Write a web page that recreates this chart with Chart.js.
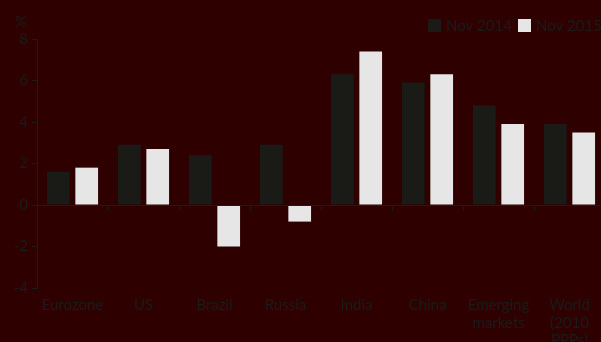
<!DOCTYPE html>
<html>
<head>
<meta charset="utf-8">
<script src="https://cdn.jsdelivr.net/npm/chart.js@4"></script>
<style>
  html, body { margin: 0; padding: 0; background: #2e0000; overflow: hidden; }
  #wrap { width: 606px; height: 342px; position: relative; }
</style>
</head>
<body>
<div id="wrap"><canvas id="c" width="606" height="342"></canvas></div>
<script>
// Real GDP growth, % year on year
const categories = ['Eurozone', 'US', 'Brazil', 'Russia', 'India', 'China', ['Emerging', 'markets'], ['World', '(2010', 'PPPs)']];
const seriesNames = ['Nov 2014', 'Nov 2015'];
const nov2014 = [1.6, 2.9, 2.4, 2.9, 6.3, 5.9, 4.8, 3.9];
const nov2015 = [1.8, 2.7, -2.0, -0.8, 7.4, 6.3, 3.9, 3.5];
const yTicks = [-4, -2, 0, 2, 4, 6, 8];
const unitLabel = '%';

const INK = '#1b1b1b';
const DARK = '#1a1a17';
const LIGHT = '#e6e6e6';
const FONT = "Lato, 'Open Sans', sans-serif";

// zero line with category separators, unit label and legend
const decorations = {
  id: 'decorations',
  afterDatasetsDraw(chart) {
    const { ctx, chartArea, scales } = chart;
    const x = scales.x, y = scales.y;
    const y0 = Math.round(y.getPixelForValue(0)) + 0.5;
    const step = x.getPixelForValue(1) - x.getPixelForValue(0);
    ctx.save();
    ctx.strokeStyle = INK;
    ctx.lineWidth = 1;
    ctx.beginPath();
    ctx.moveTo(chartArea.left, y0);
    ctx.lineTo(chartArea.right, y0);
    for (let i = 0; i < categories.length; i++) {
      const px = Math.round(x.getPixelForValue(i) + step / 2) + 0.5;
      ctx.moveTo(px, y0);
      ctx.lineTo(px, y0 + 5);
    }
    ctx.stroke();

    ctx.fillStyle = INK;
    ctx.font = '15px ' + FONT;
    ctx.textAlign = 'right';
    ctx.textBaseline = 'alphabetic';
    ctx.fillText(unitLabel, 27, 27);

    // legend
    const items = [
      { label: seriesNames[0], color: DARK, x: 428 },
      { label: seriesNames[1], color: LIGHT, x: 518 }
    ];
    ctx.textAlign = 'left';
    items.forEach(it => {
      ctx.fillStyle = it.color;
      ctx.fillRect(it.x, 19, 13, 13);
      ctx.fillStyle = INK;
      ctx.fillText(it.label, it.x + 18, 31);
    });
    ctx.restore();
  }
};

new Chart(document.getElementById('c'), {
  type: 'bar',
  data: {
    labels: categories,
    datasets: [
      { label: seriesNames[0], data: nov2014, backgroundColor: DARK, borderWidth: 0 },
      { label: seriesNames[1], data: nov2015, backgroundColor: LIGHT, borderWidth: 0 }
    ]
  },
  options: {
    responsive: false,
    animation: false,
    events: [],
    layout: { padding: { top: 39, right: 1, bottom: 0, left: 0 } },
    plugins: { legend: { display: false }, tooltip: { enabled: false } },
    datasets: { bar: { categoryPercentage: 0.8, barPercentage: 0.8 } },
    scales: {
      x: {
        grid: { display: false },
        border: { display: false },
        ticks: {
          color: INK,
          font: { family: FONT, size: 15, lineHeight: 1.15 },
          padding: 1,
          maxRotation: 0,
          autoSkip: false
        },
        afterFit(s) { s.height = 54; }
      },
      y: {
        min: -4,
        max: 8,
        afterBuildTicks(s) { s.ticks = yTicks.map(v => ({ value: v })); },
        grid: { drawOnChartArea: false, tickLength: 5, color: INK },
        border: { display: true, color: INK, width: 1 },
        ticks: {
          color: INK,
          font: { family: FONT, size: 15 },
          padding: 4
        },
        afterFit(s) { s.width = 37; }
      }
    }
  },
  plugins: [decorations]
});
</script>
</body>
</html>
